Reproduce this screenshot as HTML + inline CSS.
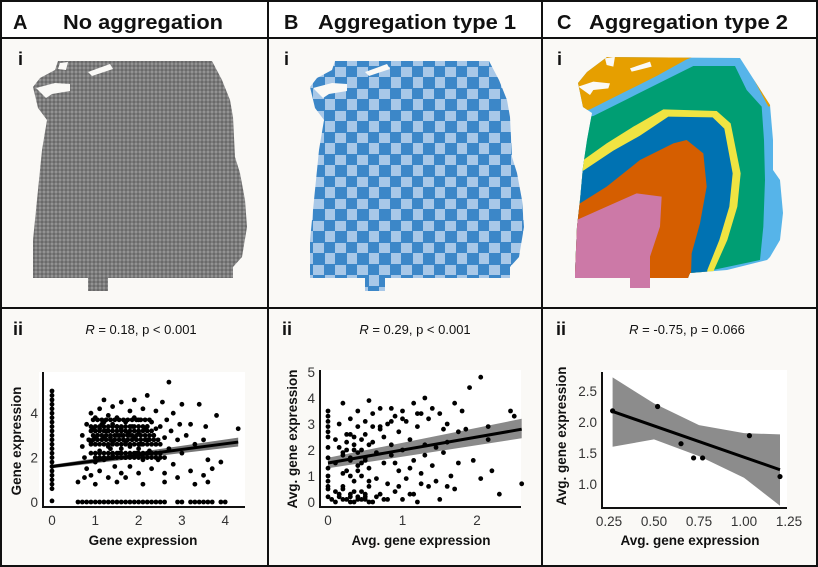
<!DOCTYPE html>
<html><head><meta charset="utf-8"><style>
html,body{margin:0;padding:0;background:#fff;}
svg{display:block;font-family:"Liberation Sans",sans-serif;}
.hd{font-family:"Liberation Sans",sans-serif;font-weight:bold;font-size:20px;fill:#111;}
.ti{font-family:"Liberation Sans",sans-serif;font-size:13px;fill:#111;}
.tk{font-size:13.5px;fill:#333;}
.lab{font-family:"Liberation Sans",sans-serif;font-weight:bold;font-size:13.5px;fill:#111;}
</style></head><body>
<svg id="fig" width="818" height="567" viewBox="0 0 818 567">
<defs>
<pattern id="greyTex" width="4" height="4" patternUnits="userSpaceOnUse"><rect width="4" height="4" fill="#9a9a9a"/><circle cx="2" cy="2" r="1.7" fill="#6a6a6a"/></pattern>
<pattern id="checker" width="22" height="22" patternUnits="userSpaceOnUse" x="300" y="55"><rect width="22" height="22" fill="#a8c8e8"/><rect x="0" y="0" width="12" height="12" fill="#3c87c8"/><rect x="11" y="11" width="11" height="11" fill="#3c87c8"/></pattern>
<clipPath id="clipC"><polygon points="607,57 740,58 770,105 773,140 773,170 780,180 783,213 780,240 770,257 767,260 727,270 690,273 688,278 650,278 650,288 630,288 630,278 575,278 575,273 577,227 580,200 583,167 587,140 592,113 583,107 578,83 587,72"/></clipPath>
</defs>
<rect x="0" y="0" width="818" height="567" fill="#fff"/>
<rect x="1" y="38" width="816" height="527" fill="#faf9f6"/>
<rect x="39" y="372" width="206" height="135" fill="#fff"/>
<rect x="320" y="370" width="201" height="137" fill="#fff"/>
<rect x="602" y="370" width="185" height="138" fill="#fff"/>
<g stroke="#111" stroke-width="2" fill="none">
<rect x="1" y="1" width="816" height="565"/>
<line x1="268" y1="1" x2="268" y2="566"/><line x1="542" y1="1" x2="542" y2="566"/>
<line x1="1" y1="38" x2="817" y2="38"/><line x1="1" y1="308" x2="817" y2="308"/>
</g>
<text class="hd" x="13" y="29">A</text>
<text class="hd" x="63" y="29" textLength="160" lengthAdjust="spacingAndGlyphs">No aggregation</text>
<text class="hd" x="284" y="29">B</text>
<text class="hd" x="318" y="29" textLength="198" lengthAdjust="spacingAndGlyphs">Aggregation type 1</text>
<text class="hd" x="557" y="29">C</text>
<text class="hd" x="589" y="29" textLength="199" lengthAdjust="spacingAndGlyphs">Aggregation type 2</text>
<text class="hd" x="18" y="65" style="font-size:18px">i</text>
<text class="hd" x="284" y="65" style="font-size:18px">i</text>
<text class="hd" x="557" y="65" style="font-size:18px">i</text>
<g id="tissueA">
<polygon fill="url(#greyTex)" points="58,61 212,61 222,80 230,100 233,117 235,157 240,173 245,200 247,227 242,257 233,267 233,278 108,278 108,291 88,291 88,278 33,278 33,240 37,200 42,150 47,120 38,108 33,87 40,78 55,70"/>
<g fill="#faf9f6"><polygon points="60,63 68,62 66,70 58,69"/><polygon points="88,72 110,64 113,69 92,76"/><polygon points="36,88 55,83 70,84 70,91 52,94 46,98"/></g>
</g>
<g id="tissueB" transform="translate(277,0)">
<polygon fill="url(#checker)" points="58,61 212,61 222,80 230,100 233,117 235,157 240,173 245,200 247,227 242,257 233,267 233,278 108,278 108,291 88,291 88,278 33,278 33,240 37,200 42,150 47,120 38,108 33,87 40,78 55,70"/>
<g fill="#faf9f6"><polygon points="88,72 110,64 113,69 92,76"/><polygon points="36,88 55,83 70,84 70,91 52,94 46,98"/></g>
</g>
<g clip-path="url(#clipC)">
<g transform="translate(540,40) scale(0.33333)">
<rect x="0" y="0" width="800" height="800" fill="#56b4e9"/>
<polygon fill="#009e73" points="0,250 160,228 260,178 360,128 460,78 585,78 620,150 665,200 672,300 675,420 670,560 660,660 0,800"/>
<polygon fill="#e69f00" points="0,0 600,0 440,58 350,108 250,158 150,208 0,240"/>
<polygon fill="#e69f00" points="595,30 660,30 700,195 685,200"/>
<polygon fill="#f0e442" points="0,380 130,360 200,310 280,260 370,208 530,213 572,250 602,400 592,500 562,600 522,690 510,800 0,800"/>
<polygon fill="#0072b2" points="0,410 130,392 220,332 300,287 385,230 518,232 553,266 578,400 568,500 538,600 502,690 495,800 0,800"/>
<polygon fill="#d55e00" points="0,500 120,490 200,440 300,360 400,310 440,300 490,340 500,440 480,550 455,640 450,800 0,800"/>
<polygon fill="#cc79a7" points="0,545 110,540 200,500 290,460 365,470 360,560 330,650 330,800 0,800"/>
<g fill="#faf9f6"><polygon points="195,55 225,50 220,80 200,75"/><polygon points="270,85 330,65 335,80 275,95"/><polygon points="115,140 160,125 210,130 205,145 160,150 150,165"/></g>
</g></g>
<text class="hd" x="13" y="335" style="font-size:18px">ii</text>
<text class="hd" x="282" y="335" style="font-size:18px">ii</text>
<text class="hd" x="556" y="335" style="font-size:18px">ii</text>
<text class="ti" x="141" y="334" text-anchor="middle"><tspan font-style="italic">R</tspan> = 0.18, p &lt; 0.001</text>
<text class="ti" x="415" y="334" text-anchor="middle"><tspan font-style="italic">R</tspan> = 0.29, p &lt; 0.001</text>
<text class="ti" x="687" y="334" text-anchor="middle"><tspan font-style="italic">R</tspan> = -0.75, p = 0.066</text>
<text class="lab" x="143" y="545" text-anchor="middle">Gene expression</text>
<text class="lab" x="421" y="545" text-anchor="middle">Avg. gene expression</text>
<text class="lab" x="690" y="545" text-anchor="middle">Avg. gene expression</text>
<text class="lab" transform="translate(21,441) rotate(-90)" text-anchor="middle">Gene expression</text>
<text class="lab" transform="translate(297,439) rotate(-90)" text-anchor="middle">Avg. gene expression</text>
<text class="lab" transform="translate(566,436) rotate(-90)" text-anchor="middle">Avg. gene expression</text>
<g id="plots"></g>
</svg>
<script>
// ---- Plot A data ----
const aColX = [0,0,0,0,0,0,0,0,0,0,0,0,0,0,0,0,0,0,0,0,0,0,0,0];
const aColY = [0.05,0.6,0.8,1.0,1.2,1.4,1.6,1.8,2.0,2.2,2.4,2.6,2.8,3.0,3.2,3.4,3.6,3.8,4.0,4.2,4.4,4.6,4.8,5.0];
const aRowX = [0.6,0.7,0.8,0.9,1.0,1.1,1.2,1.3,1.4,1.5,1.6,1.7,1.8,1.9,2.0,2.1,2.2,2.3,2.4,2.5,2.6,2.9,3.0,3.2,3.3,3.4,3.5,3.6,3.7,3.9,4.0];
const aRowY = aRowX.map(()=>0);
const aCloudX = [0.7,0.7,0.75,0.8,0.8,0.85,0.9,0.9,0.9,0.95,1.0,1.0,1.0,1.05,1.1,1.1,1.1,1.15,1.2,1.2,1.2,1.25,1.3,1.3,1.3,1.35,1.4,1.4,1.4,1.45,1.5,1.5,1.5,1.55,1.6,1.6,1.6,1.65,1.7,1.7,1.75,1.8,1.8,1.8,1.85,1.9,1.9,1.95,2.0,2.0,2.0,2.05,2.1,2.1,2.15,2.2,2.2,2.25,2.3,2.3,2.35,2.4,2.4,2.45,2.5,2.5,2.55,2.6,2.6,2.65,2.7,2.7,2.75,2.8,2.8,2.9,2.95,3.0,3.0,3.1,3.2,3.3,3.4,3.5,3.5,3.6,3.7,3.8,3.9,4.3,3.55,3.2,1.2,1.0,1.4,1.6,1.8,2.2,1.3,1.5,1.7,1.9,2.4,1.1,1.6,0.9,1.35,2.0,0.6,0.75,1.0,1.5,1.7,2.6,2.9,3.3,3.6,2.1,
0.9,1.0,1.1,1.2,1.3,1.4,1.5,1.6,1.7,1.8,1.9,2.0,2.1,2.2,2.3,2.4,2.5,
0.95,1.05,1.15,1.25,1.35,1.45,1.55,1.65,1.75,1.85,1.95,2.05,2.15,2.25,2.35,
0.9,1.0,1.1,1.2,1.3,1.4,1.5,1.6,1.7,1.8,1.9,2.0,2.1,2.2,
1.0,1.1,1.2,1.3,1.4,1.5,1.6,1.7,1.8,1.9,2.0,2.1,2.2,2.3,2.4,2.5,
0.85,0.95,1.05,1.15,1.25,1.35,1.45,1.55,1.65,1.75,1.85,1.95,2.05,2.15,2.25,2.35,2.45,
0.9,1.0,1.1,1.2,1.3,1.4,1.5,1.6,1.7,1.8,1.9,2.0,2.1,2.2,2.3,
0.95,1.05,1.15,1.25,1.35,1.45,1.55,1.65,1.75,1.85,1.95,2.05,2.15,2.25,
1.0,1.1,1.2,1.3,1.4,1.5,1.6,1.7,1.8,1.9,2.0,2.1,2.2,2.3,2.4,2.5,2.6];
const aCloudY = [2.5,3.0,2.0,3.5,1.5,2.8,4.0,2.2,1.2,3.3,2.6,3.8,1.8,3.0,4.2,2.3,1.4,3.5,2.9,1.9,4.6,3.2,2.5,3.9,1.1,2.9,3.5,2.1,4.3,1.6,3.0,2.6,3.8,2.2,3.3,4.5,1.3,2.8,3.6,2.0,3.1,4.1,2.5,1.6,3.4,2.9,4.6,2.2,3.7,3.1,1.3,2.6,4.2,1.9,3.3,2.8,4.8,2.3,3.6,1.5,3.0,4.1,2.6,1.9,3.4,2.2,4.5,2.9,1.3,3.7,5.4,2.4,3.2,4.0,1.7,2.8,3.5,2.2,4.4,3.0,1.4,2.6,4.4,1.2,2.8,1.9,1.5,3.9,1.8,3.3,3.4,3.5,3.6,2.9,2.7,2.4,3.0,3.4,3.2,3.4,2.7,3.8,3.3,3.3,3.0,2.7,2.4,2.4,0.9,1.1,0.8,0.9,1.1,0.9,1.1,0.8,0.9,0.8,
2.6,2.6,2.6,2.6,2.6,2.6,2.6,2.6,2.6,2.6,2.6,2.6,2.6,2.6,2.6,2.6,2.6,
3.0,3.0,3.0,3.0,3.0,3.0,3.0,3.0,3.0,3.0,3.0,3.0,3.0,3.0,3.0,
3.4,3.4,3.4,3.4,3.4,3.4,3.4,3.4,3.4,3.4,3.4,3.4,3.4,3.4,
2.2,2.2,2.2,2.2,2.2,2.2,2.2,2.2,2.2,2.2,2.2,2.2,2.2,2.2,2.2,2.2,
2.8,2.8,2.8,2.8,2.8,2.8,2.8,2.8,2.8,2.8,2.8,2.8,2.8,2.8,2.8,2.8,2.8,
3.2,3.2,3.2,3.2,3.2,3.2,3.2,3.2,3.2,3.2,3.2,3.2,3.2,3.2,3.2,
3.7,3.7,3.7,3.7,3.7,3.7,3.7,3.7,3.7,3.7,3.7,3.7,3.7,3.7,
2.0,2.0,2.0,2.0,2.0,2.0,2.0,2.0,2.0,2.0,2.0,2.0,2.0,2.0,2.0,2.0,2.0];
const aFitX = [0, 4.3];
const aFitY = [1.6, 2.7];
const aBandLo = [1.52, 2.5];
const aBandHi = [1.68, 2.9];
const aXTicks = [0,1,2,3,4];
const aYTicks = [0,2,4];

// ---- Plot B data ----
const bX = [0,0,0,0,0,0,0,0,0,0,0.05,0.1,0.1,0.1,0.15,0.15,0.2,0.2,0.2,0.25,0.25,0.25,0.3,0.3,0.3,0.35,0.35,0.35,0.4,0.4,0.4,0.45,0.45,0.45,0.5,0.5,0.5,0.5,0.55,0.55,0.6,0.6,0.6,0.65,0.65,0.7,0.7,0.7,0.75,0.75,0.8,0.8,0.85,0.85,0.9,0.9,0.95,0.95,1.0,1.0,1.0,1.05,1.05,1.1,1.1,1.15,1.15,1.2,1.2,1.25,1.25,1.3,1.3,1.35,1.35,1.4,1.4,1.45,1.45,1.5,1.5,1.55,1.55,1.6,1.6,1.65,1.7,1.7,1.75,1.75,1.8,1.85,1.9,1.95,2.05,2.05,2.15,2.15,2.2,2.3,2.45,2.5,2.6,1.6,1.3,0.9,0.6,0.3,0.2,0.75,0.4,1.1,0.55,0.85,
0.15,0.25,0.35,0.45,0.55,0.2,0.3,0.4,0.5,0.25,0.35,0.45,0.15,0.3,0.45,0.2,0.35,0.5,0.4,0.3,0.55,0.65,0.8,0.95,1.15,1.25,0.7,0.85,1.0,1.2,0,0,0,0,0.1,0.2,0.3,0.4,0.5,0.55];
const bY = [0.2,0.6,1.0,1.3,1.7,2.1,2.5,2.9,3.3,3.5,0.1,0.4,1.5,2.4,0.2,3.0,0.6,1.9,3.8,0.1,1.2,2.6,0.3,1.7,3.2,0.8,2.2,0.0,1.4,2.9,3.5,0.4,1.0,2.0,0.1,1.6,2.6,3.1,0.6,1.3,2.3,0.0,3.4,0.9,1.9,2.8,0.3,3.6,1.5,2.5,0.7,3.0,1.8,2.2,3.3,0.4,2.7,1.2,3.5,0.1,2.0,0.9,3.1,2.4,0.3,3.8,1.6,2.9,0.0,3.4,1.1,4.0,2.2,0.6,3.2,3.6,1.4,2.1,0.8,3.4,0.1,1.9,2.8,0.6,3.0,1.0,3.8,0.5,2.7,1.5,3.5,2.8,4.4,1.6,4.8,0.9,2.9,2.4,1.2,0.3,3.5,3.3,0.7,2.3,1.8,1.5,2.9,2.6,1.1,0.1,0.2,1.3,3.9,3.6,
2.1,2.3,2.0,2.4,2.2,1.8,1.6,1.9,1.7,2.0,2.5,1.5,0.3,0.2,0.1,0.5,0.4,0.3,1.2,1.0,0.8,0.2,0.1,0.6,0.3,0.7,2.9,3.1,3.2,3.4,0.5,0.8,2.7,3.1,0.0,0.1,0.0,0.1,0.2,0.0];
const bFitX = [0, 2.6];
const bFitY = [1.5, 2.8];
const bBandLo = [1.3, 2.45];
const bBandHi = [1.7, 3.2];
const bXTicks = [0,1,2];
const bYTicks = [0,1,2,3,4,5];

// ---- Plot C data ----
const cX = [0.27,0.52,0.65,0.72,0.77,1.03,1.2];
const cY = [2.18,2.25,1.65,1.42,1.42,1.78,1.12];
const cFitX = [0.27, 1.2];
const cFitY = [2.17, 1.23];
const cBandX = [0.27,0.5,0.75,1.0,1.2];
const cBandLo = [1.6,1.72,1.45,1.1,0.65];
const cBandHi = [2.72,2.3,1.95,1.82,1.8];
const cXTicks = [0.25,0.5,0.75,1.0,1.25];
const cXTickLabels = ["0.25","0.50","0.75","1.00","1.25"];
const cYTicks = [1.0,1.5,2.0,2.5];
const cYTickLabels = ["1.0","1.5","2.0","2.5"];

const NS = "http://www.w3.org/2000/svg";
const root = document.getElementById('plots');
function mk(tag, attrs, parent){const e=document.createElementNS(NS,tag);for(const k in attrs)e.setAttribute(k,attrs[k]);(parent||root).appendChild(e);return e;}

function drawPlot(p){
  const g = mk('g',{});
  
  
  const bx = p.bandX;
  let pts = bx.map((v,i)=>p.sx(v)+','+p.sy(p.bandHi[i]));
  pts = pts.concat(bx.slice().reverse().map((v,j)=>{const i=bx.length-1-j;return p.sx(v)+','+p.sy(p.bandLo[i]);}));
  const band = mk('polygon',{points:pts.join(' '),fill:p.bandFill},g);
  
  
  p.series.forEach(s=>{
    s.x.forEach((v,i)=>{
      const c = mk('circle',{cx:p.sx(v),cy:p.sy(s.y[i]),r:p.r,fill:'#000'},g);
      
      
    });
  });
  const ln = mk('line',{x1:p.sx(p.fitX[0]),y1:p.sy(p.fitY[0]),x2:p.sx(p.fitX[1]),y2:p.sy(p.fitY[1]),stroke:'#000','stroke-width':3},g);
  
  
  const ya = mk('line',{x1:p.ax,y1:p.top,x2:p.ax,y2:p.ay+1,stroke:'#111','stroke-width':2},g);
  
  
  const xa = mk('line',{x1:p.ax-1,y1:p.ay,x2:p.right,y2:p.ay,stroke:'#111','stroke-width':2},g);
  
  
  p.xTicks.forEach((v,i)=>{
    const t = mk('text',{x:p.sx(v),y:p.ay+18,'text-anchor':'middle',class:'tk'},g);
    t.textContent = p.xLabels ? p.xLabels[i] : String(v);
    
    
  });
  p.yTicks.forEach((v,i)=>{
    const t = mk('text',{x:p.ax-5,y:p.sy(v)+5,'text-anchor':'end',class:'tk'},g);
    t.textContent = p.yLabels ? p.yLabels[i] : String(v);
    
    
  });
}

drawPlot({name:'scatter-plot-a', sx:v=>52+v*43.3, sy:v=>502-22.2*v, ax:43, ay:507, top:372, right:245, r:2.4,
  series:[{x:aColX,y:aColY},{x:aRowX,y:aRowY},{x:aCloudX,y:aCloudY}],
  fitX:aFitX, fitY:aFitY, bandX:aFitX, bandLo:aBandLo, bandHi:aBandHi, bandFill:'#777',
  xTicks:aXTicks, yTicks:aYTicks});
drawPlot({name:'scatter-plot-b', sx:v=>328+v*74.5, sy:v=>502-26*v, ax:320, ay:507, top:370, right:521, r:2.4,
  series:[{x:bX,y:bY}],
  fitX:bFitX, fitY:bFitY, bandX:bFitX, bandLo:bBandLo, bandHi:bBandHi, bandFill:'#8a8a8a',
  xTicks:bXTicks, yTicks:bYTicks});
drawPlot({name:'scatter-plot-c', sx:v=>609+(v-0.25)*180, sy:v=>484-(v-1.0)*62, ax:602, ay:508, top:372, right:787, r:2.6,
  series:[{x:cX,y:cY}],
  fitX:cFitX, fitY:cFitY, bandX:cBandX, bandLo:cBandLo, bandHi:cBandHi, bandFill:'#8c8c8c',
  xTicks:cXTicks, xLabels:cXTickLabels, yTicks:cYTicks, yLabels:cYTickLabels});
</script>
</body></html>
